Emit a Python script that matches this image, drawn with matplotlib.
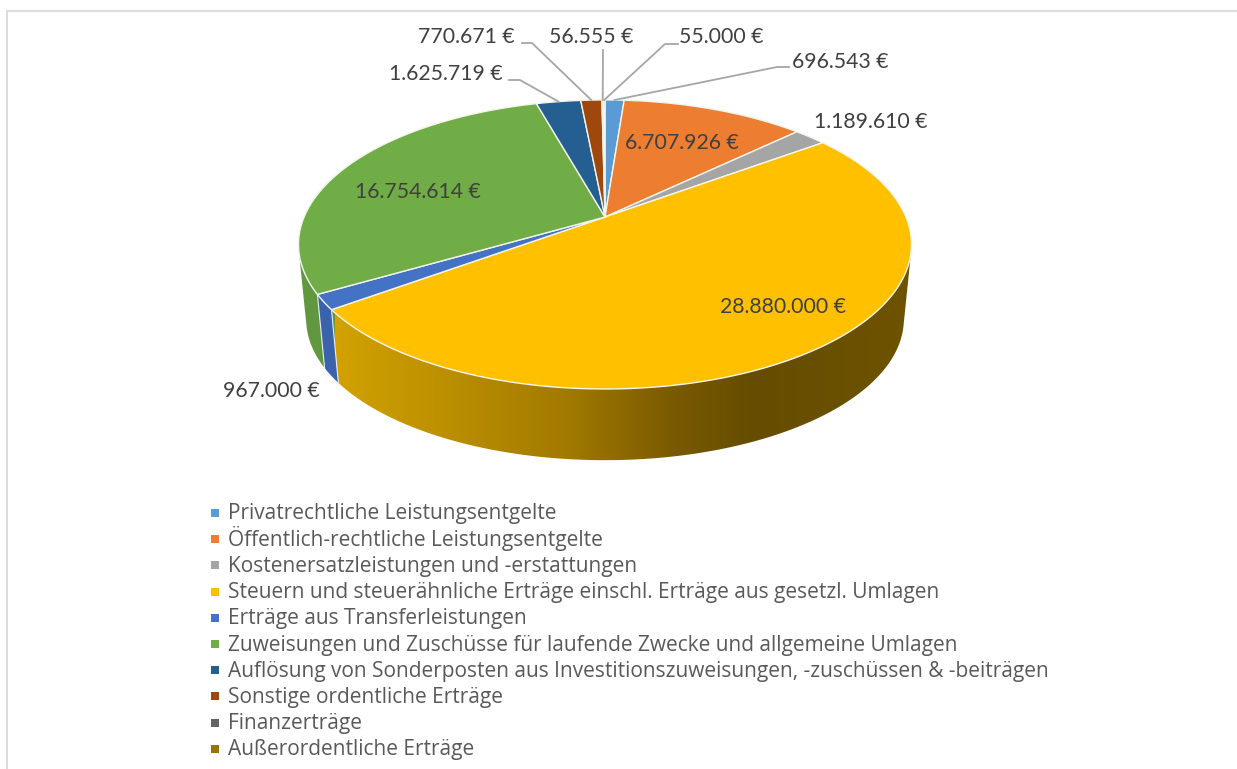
import numpy as np
import matplotlib
matplotlib.use("Agg")
import matplotlib.pyplot as plt
from matplotlib.colors import LinearSegmentedColormap, to_rgb
from matplotlib.patches import Polygon, Rectangle

categories = [
    "Privatrechtliche Leistungsentgelte",
    "Öffentlich-rechtliche Leistungsentgelte",
    "Kostenersatzleistungen und -erstattungen",
    "Steuern und steuerähnliche Erträge einschl. Erträge aus gesetzl. Umlagen",
    "Erträge aus Transferleistungen",
    "Zuweisungen und Zuschüsse für laufende Zwecke und allgemeine Umlagen",
    "Auflösung von Sonderposten aus Investitionszuweisungen, -zuschüssen & -beiträgen",
    "Sonstige ordentliche Erträge",
    "Finanzerträge",
    "Außerordentliche Erträge",
]
values = [696543, 6707926, 1189610, 28880000, 967000, 16754614, 1625719, 770671, 56555, 55000]
value_labels = ["696.543 €", "6.707.926 €", "1.189.610 €", "28.880.000 €", "967.000 €",
                "16.754.614 €", "1.625.719 €", "770.671 €", "56.555 €", "55.000 €"]
colors = ["#5B9BD5", "#ED7D31", "#A5A5A5", "#FFC000", "#4472C4",
          "#70AD47", "#255E91", "#9E480E", "#636363", "#997300"]

# Label centres in pixels
label_pos = [(840, 62), (682, 143), (871, 122), (783, 307), (271, 391),
             (418, 192), (446, 74), (466, 37), (591, 37), (721, 37)]
# Leader elbow and end
leaders = {0: [(777, 67), (789, 67)], 8: [(603, 50)], 9: [(665, 44), (678, 44)],
           7: [(532, 43), (522, 43)], 6: [(520, 80), (509, 80)]}

# Pie geometry, tilted circle with perspective
CX, CY = 605, 217
A, B, K = 300.9, 139.3, 0.19
DEPTH, SCALE = 75.5, 0.975

LEGEND_TOP = 513
LEGEND_STEP = 26.2


def project(theta, bottom=False):
    x = np.cos(theta)
    y = np.sin(theta)
    den = 1 + K * y
    s = SCALE if bottom else 1.0
    d = DEPTH if bottom else 0
    return CX + s * A * x / den, CY + d - s * B * y / den


# Monotone chain, so the wall also covers the tangent between top and bottom rim
def hull(points):
    pts = sorted(set(map(tuple, points)))

    def half(seq):
        out = []
        for p in seq:
            while len(out) > 1 and ((out[-1][0] - out[-2][0]) * (p[1] - out[-2][1])
                                    - (out[-1][1] - out[-2][1]) * (p[0] - out[-2][0])) <= 0:
                out.pop()
            out.append(p)
        return out[:-1]

    return np.array(half(pts) + half(pts[::-1]))


fig = plt.figure(figsize=(12.37, 7.69), dpi=100)
ax = fig.add_axes([0, 0, 1, 1])
ax.axis("off")

# Chart frame, only top and left show in the crop
ax.plot([1237, 7, 7], [11, 11, 769], color="#DCDCDC", lw=1.5, solid_joinstyle="miter")

# Clockwise from 12 o'clock
fractions = np.cumsum([0] + values) / sum(values)
angles = np.pi / 2 - 2 * np.pi * fractions

wall_cmap = LinearSegmentedColormap.from_list(
    "wall", [(0, "#D2A200"), (0.4, "#A27A00"), (0.58, "#7A5B00"),
             (0.72, "#654C00"), (1, "#6E5300")])

# Side walls first, the blue one sits in front of the green one
for i, color in enumerate(colors):
    t = np.linspace(angles[i], angles[i + 1], 200)
    xt, yt = project(t)
    xb, yb = project(t, bottom=True)
    pts = hull(np.column_stack([np.r_[xt, xb], np.r_[yt, yb]]))
    if i == 3:
        poly = Polygon(pts, closed=True, facecolor="none", edgecolor="none")
        ax.add_patch(poly)
        grad = ax.imshow(np.linspace(0, 1, 256).reshape(1, -1), cmap=wall_cmap,
                         extent=(335, 915, 470, 130), aspect="auto", zorder=3)
        grad.set_clip_path(poly)
    else:
        rgb = np.array(to_rgb(color)) * 0.87
        ax.fill(pts[:, 0], pts[:, 1], color=rgb, lw=0, zorder=2.5 if i == 4 else 2)

# Wall edges of the blue slice
for a in (angles[4], angles[5]):
    xt, yt = project(a)
    xb, yb = project(a, bottom=True)
    ax.plot([xt, xb], [yt, yb], color="#E8EEF5", lw=0.8, zorder=3.5)

# Top faces
for i, color in enumerate(colors):
    t = np.linspace(angles[i], angles[i + 1], 200)
    xt, yt = project(t)
    ax.fill(np.r_[CX, xt], np.r_[CY, yt], facecolor=color, edgecolor="#F4F6EE",
            lw=1.0, joinstyle="round", zorder=4)

# Leader lines
for i, pts in leaders.items():
    mid = (angles[i] + angles[i + 1]) / 2
    x0, y0 = project(mid)
    ax.plot([x0] + [p[0] for p in pts], [y0] + [p[1] for p in pts],
            color="#A6A6A6", lw=1.3, zorder=5)

# Value labels
for text, (x, y) in zip(value_labels, label_pos):
    ax.text(x, y, text, ha="center", va="center", family="Lato", fontsize=15.3,
            color="#404040", zorder=6)

# Legend rows
for i, (name, color) in enumerate(zip(categories, colors)):
    y = LEGEND_TOP + i * LEGEND_STEP
    ax.add_patch(Rectangle((211, y - 4), 8, 8, facecolor=color, edgecolor="none"))
    ax.text(228, y + 6.5, name, ha="left", va="baseline", family="Open Sans",
            fontsize=15.05, color="#595959")

ax.set_xlim(0, 1237)
ax.set_ylim(769, 0)
fig.savefig("out.png", dpi=100)
